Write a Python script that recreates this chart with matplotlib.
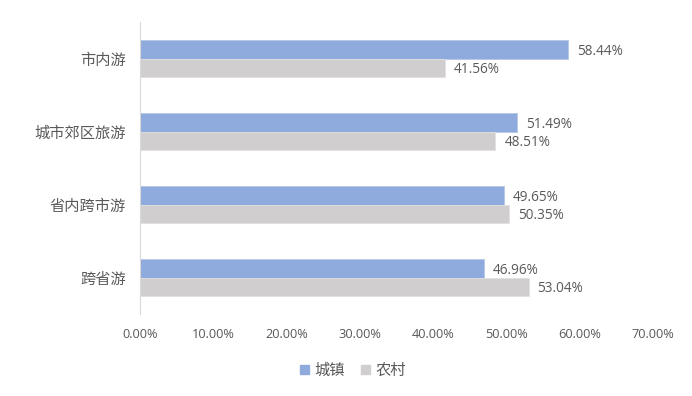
import numpy as np
import matplotlib
matplotlib.use("Agg")
from matplotlib import pyplot as plt
from matplotlib.patches import Patch

plt.rcParams['font.family'] = ['Noto Sans CJK SC', 'DejaVu Sans']

categories = ['市内游', '城市郊区旅游', '省内跨市游', '跨省游']
urban = [58.44, 51.49, 49.65, 46.96]
rural = [41.56, 48.51, 50.35, 53.04]
series_names = ['城镇', '农村']
blue = '#8FAADC'
grey = '#D0CECE'
txt = '#595959'
num_font = ['Open Sans', 'DejaVu Sans']

fig = plt.figure(figsize=(6.92, 3.96), dpi=100)
ax = fig.add_axes([0.2023, 0.207, 0.7413, 0.737])

y = np.arange(len(categories))
h = 0.25
ax.barh(y - h / 2, urban, height=h, color=blue, edgecolor='#B4C7E7', linewidth=0.6)
ax.barh(y + h / 2, rural, height=h, color=grey, edgecolor='#E2E0E0', linewidth=0.6)

# labels sit a touch below bar centre, like the original
for i in range(len(categories)):
    ax.text(urban[i] + 1.2, y[i] - h / 2 + 0.03, f'{urban[i]:.2f}%', va='center', ha='left',
            fontsize=9.8, color=txt, family=num_font)
    ax.text(rural[i] + 1.2, y[i] + h / 2 + 0.03, f'{rural[i]:.2f}%', va='center', ha='left',
            fontsize=9.8, color=txt, family=num_font)

ax.set_xlim(0, 70)
ax.set_ylim(len(categories) - 0.5, -0.5)
ax.set_xticks(np.arange(0, 71, 10))
ax.set_xticklabels([f'{v:.2f}%' for v in np.arange(0, 71, 10)], color=txt, fontsize=9.2,
                   family=num_font)
ax.set_yticks(y)
ax.set_yticklabels(categories, color=txt, fontsize=11)
ax.tick_params(length=0, pad=10)
ax.tick_params(axis='x', pad=10)

for s in ['top', 'right', 'bottom']:
    ax.spines[s].set_visible(False)
ax.spines['left'].set_color('#D9D9D9')

handles = [Patch(color=blue), Patch(color=grey)]
fig.legend(handles, series_names, loc='center', bbox_to_anchor=(0.51, 0.065), ncol=2,
           frameon=False, fontsize=11, labelcolor=txt, handlelength=0.6, handleheight=0.6,
           handletextpad=0.4, columnspacing=1.0)

fig.savefig('out.png', dpi=100)
